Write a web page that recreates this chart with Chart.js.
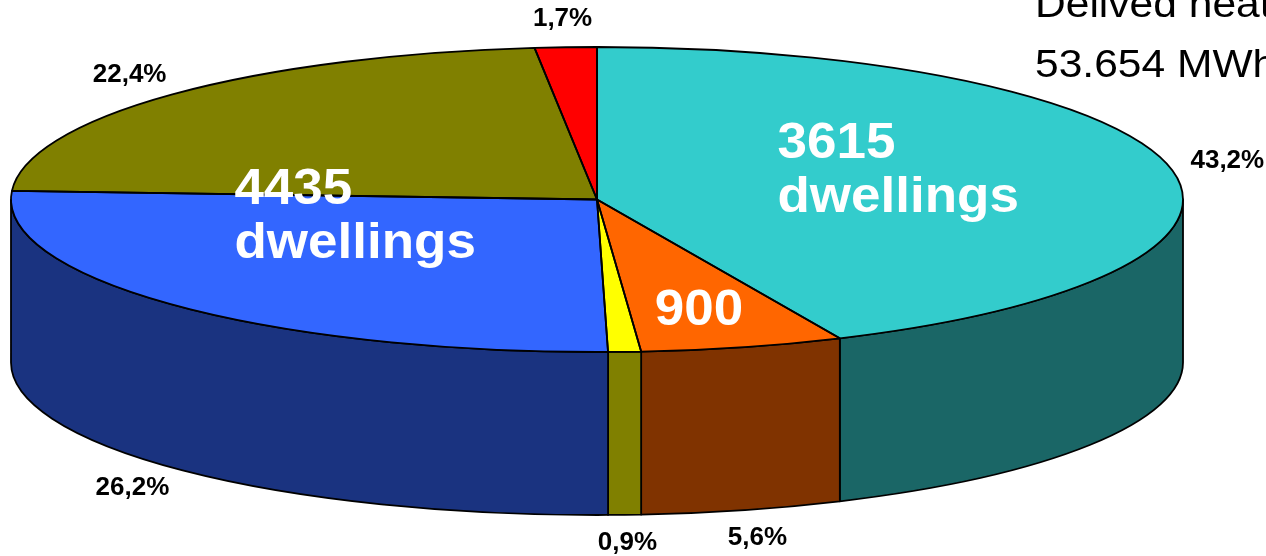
<!DOCTYPE html>
<html>
<head>
<meta charset="utf-8">
<script src="https://cdn.jsdelivr.net/npm/chart.js@4.4.1/dist/chart.umd.min.js"></script>
<style>
  html, body { margin: 0; padding: 0; background: #fff; }
  #wrap { width: 1266px; height: 556px; position: relative; }
</style>
</head>
<body>
<div id="wrap"><canvas id="heat"></canvas></div>
<script>
// share of delivered heat per sector, percent (clockwise from 12 o'clock)
const sectors = ['Sector 1', 'Sector 2', 'Sector 3', 'Sector 4', 'Sector 5', 'Sector 6'];
const shares = [43.2, 5.6, 0.9, 26.2, 22.4, 1.7];
const dwellingText = ['3615\ndwellings', '900', '', '4435\ndwellings', '', ''];
const sliceColors = ['#33CCCC', '#FF6600', '#FFFF00', '#3366FF', '#808000', '#FF0000'];
const titleLines = ['Delived heat', '53.654 MWh'];

function shade(hex, f) {
  const n = parseInt(hex.slice(1), 16);
  const c = [(n >> 16) & 255, (n >> 8) & 255, n & 255].map(v => Math.round(v * f));
  return 'rgb(' + c.join(',') + ')';
}

// squashes the pie into an ellipse and adds the extruded front wall
const pie3d = {
    id: 'pie3d',
    beforeDatasetsDraw(chart, args, opts) {
        const ctx = chart.ctx;
        const arcs = chart.getDatasetMeta(0).data;
        const first = arcs[0];
        const sx = (chart.chartArea.width / 2) / first.outerRadius;
        chart.$sx = sx;
        arcs.forEach((arc, i) => {
            const b0 = Math.max(arc.startAngle, 0);
            const b1 = Math.min(arc.endAngle, Math.PI);
            if (b1 <= b0) return;
            ctx.save();
            ctx.translate(arc.x, 0);
            ctx.scale(sx, 1);
            ctx.translate(-arc.x, 0);
            ctx.beginPath();
            ctx.arc(arc.x, arc.y, arc.outerRadius, b0, b1);
            ctx.arc(arc.x, arc.y + opts.depth, arc.outerRadius, b1, b0, true);
            ctx.closePath();
            ctx.restore();
            ctx.fillStyle = shade(sliceColors[i], 0.5);
            ctx.fill();
            ctx.lineWidth = opts.lineWidth;
            ctx.lineJoin = 'round';
            ctx.strokeStyle = '#000';
            ctx.stroke();
        });
        // the slices themselves get drawn by chart.js inside this transform
        ctx.save();
        ctx.translate(first.x, 0);
        ctx.scale(sx, 1);
        ctx.translate(-first.x, 0);
    },
    afterDatasetsDraw(chart, args, opts) {
        const ctx = chart.ctx;
        ctx.restore();
        const sx = chart.$sx;
        const arcs = chart.getDatasetMeta(0).data;

        // slice outlines on the top face
        arcs.forEach(arc => {
            ctx.save();
            ctx.translate(arc.x, 0);
            ctx.scale(sx, 1);
            ctx.translate(-arc.x, 0);
            ctx.beginPath();
            ctx.moveTo(arc.x, arc.y);
            ctx.arc(arc.x, arc.y, arc.outerRadius, arc.startAngle, arc.endAngle);
            ctx.closePath();
            ctx.restore();
            ctx.lineWidth = opts.lineWidth;
            ctx.lineJoin = 'round';
            ctx.strokeStyle = '#000';
            ctx.stroke();
        });

        // percentage labels outside the pie
        ctx.save();
        ctx.font = 'bold 26px "Liberation Sans", Arial, sans-serif';
        ctx.fillStyle = '#000';
        ctx.textAlign = 'center';
        ctx.textBaseline = 'middle';
        arcs.forEach((arc, i) => {
            const mid = (arc.startAngle + arc.endAngle) / 2;
            const c = Math.cos(mid), s = Math.sin(mid);
            const px = arc.x + arc.outerRadius * sx * c + opts.labelOffset.x * c;
            const py = arc.y + arc.outerRadius * s + (s > 0 ? opts.depth : 0) + opts.labelOffset.y * s;
            ctx.fillText(shares[i].toFixed(1).replace('.', ',') + '%', px, py);
        });
        ctx.restore();

        // dwelling counts inside the slices
        ctx.save();
        ctx.font = 'bold 50px "Liberation Sans", Arial, sans-serif';
        ctx.fillStyle = '#fff';
        ctx.textBaseline = 'alphabetic';
        const k = opts.innerStretch;
        arcs.forEach((arc, i) => {
            const text = dwellingText[i];
            const at = opts.innerAt[i];
            if (!text || !at) return;
            const mid = (arc.startAngle + arc.endAngle) / 2;
            const ax = arc.x + arc.outerRadius * sx * at[0] * Math.cos(mid);
            const ay = arc.y + arc.outerRadius * at[1] * Math.sin(mid);
            const lines = text.split('\n');
            const w = Math.max(...lines.map(l => ctx.measureText(l).width)) * k;
            ctx.save();
            ctx.translate(ax - w / 2, 0);
            ctx.scale(k, 1);
            ctx.textAlign = lines.length > 1 ? 'left' : 'center';
            const left = lines.length > 1 ? 0 : w / 2 / k;
            lines.forEach((l, n) => {
                const base = ay + (n - (lines.length - 1) / 2) * opts.lineHeight + 18;
                ctx.fillText(l, left, base);
            });
            ctx.restore();
        });
        ctx.restore();
    },
    afterDraw(chart, args, opts) {
        const ctx = chart.ctx;
        ctx.save();
        ctx.font = '38px "Liberation Sans", Arial, sans-serif';
        ctx.fillStyle = '#000';
        ctx.textAlign = 'left';
        ctx.textBaseline = 'alphabetic';
        ctx.translate(opts.titleX, 0);
        ctx.scale(1.12, 1);
        titleLines.forEach((t, n) => ctx.fillText(t, 0, opts.titleY + n * 60));
        ctx.restore();
    }
};

new Chart(document.getElementById('heat'), {
    type: 'pie',
    data: {
        labels: sectors,
        datasets: [{
            data: shares,
            backgroundColor: sliceColors,
            borderWidth: 0,
            hoverOffset: 0,
            clip: false
        }]
    },
    options: {
        responsive: true,
        maintainAspectRatio: false,
        animation: false,
        events: [],
        layout: { padding: { left: 11, right: 83, top: 47, bottom: 204 } },
        plugins: {
            legend: { display: false },
            tooltip: { enabled: false },
            pie3d: {
                depth: 163,
                lineWidth: 1.8,
                labelOffset: { x: 59, y: 28 },
                innerAt: [[0.526, 1.0], [0.70, 0.73], null, [0.573, 0.13], null, null],
                innerStretch: 1.06,
                lineHeight: 54,
                titleX: 1035,
                titleY: 17
            }
        }
    },
    plugins: [pie3d]
});
</script>
</body>
</html>
